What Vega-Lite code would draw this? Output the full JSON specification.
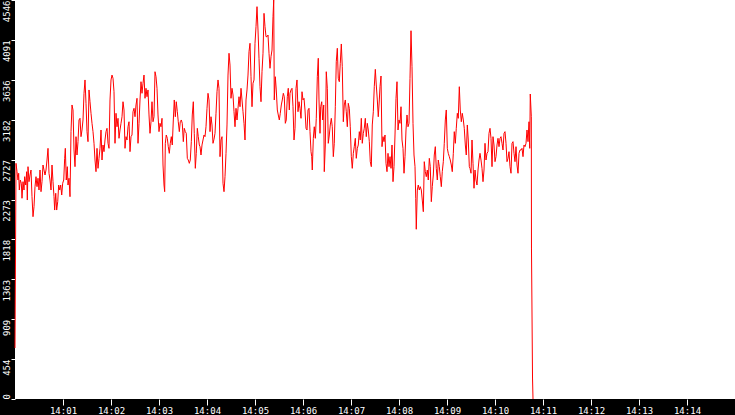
{
  "$schema": "https://vega.github.io/schema/vega-lite/v6.json",
  "width": 720,
  "height": 399,
  "autosize": "none",
  "padding": {"left": 15, "top": 0, "right": 0, "bottom": 16},
  "background": "black",
  "data": {
    "values": [
      {"s":0,"v":581},{"s":1.25,"v":2685},{"s":2.5,"v":2590},{"s":3.75,"v":2495},{"s":4.6,"v":2572},{"s":5.4,"v":2381},{"s":6.6,"v":2495},{"s":7.9,"v":2458},{"s":8.75,"v":2287},{"s":10,"v":2476},
      {"s":11.25,"v":2381},{"s":12.1,"v":2533},{"s":13.4,"v":2438},{"s":14.6,"v":2590},{"s":15.4,"v":2267},{"s":16.25,"v":2647},{"s":17.5,"v":2476},{"s":18.75,"v":2552},{"s":20,"v":2609},{"s":21.25,"v":2305},
      {"s":22.5,"v":2077},{"s":23.75,"v":2191},{"s":25,"v":2419},{"s":26.25,"v":2533},{"s":27.5,"v":2419},{"s":28.75,"v":2515},{"s":30,"v":2381},{"s":31.25,"v":2609},{"s":32.5,"v":2362},{"s":33.75,"v":2476},
      {"s":35,"v":2666},{"s":36.25,"v":2609},{"s":37.5,"v":2552},{"s":38.75,"v":2609},{"s":40,"v":2723},{"s":41.25,"v":2856},{"s":42.5,"v":2572},{"s":43.75,"v":2495},{"s":45,"v":2381},{"s":46.25,"v":2666},
      {"s":47.5,"v":2476},{"s":48.75,"v":2305},{"s":49.6,"v":2153},{"s":50.9,"v":2344},{"s":52.1,"v":2153},{"s":53.4,"v":2248},{"s":54.6,"v":2438},{"s":55.9,"v":2381},{"s":57.1,"v":2438},{"s":58.4,"v":2324},
      {"s":59.6,"v":2458},{"s":60.9,"v":2495},{"s":62.1,"v":2742},{"s":62.9,"v":2856},{"s":64.1,"v":2495},{"s":65.4,"v":2647},{"s":66.25,"v":2438},{"s":67.5,"v":2515},{"s":68.75,"v":2305},{"s":70,"v":3046},
      {"s":71.25,"v":3350},{"s":72.5,"v":3293},{"s":73.75,"v":2837},{"s":75,"v":2647},{"s":76.25,"v":2989},{"s":77.5,"v":2780},{"s":78.75,"v":2932},{"s":80,"v":3179},{"s":81.25,"v":3198},{"s":82.5,"v":2989},
      {"s":83.75,"v":3065},{"s":85,"v":3179},{"s":86.25,"v":3483},{"s":87.5,"v":3635},{"s":88.75,"v":3369},{"s":90,"v":3046},{"s":91.25,"v":2932},{"s":92.5,"v":3521},{"s":93.75,"v":3387},{"s":95,"v":3255},
      {"s":96.25,"v":3141},{"s":97.5,"v":3046},{"s":98.75,"v":2913},{"s":100,"v":2723},{"s":101.25,"v":2590},{"s":102.5,"v":2856},{"s":103.75,"v":2628},{"s":105,"v":2742},{"s":106.25,"v":2856},{"s":107.5,"v":3065},
      {"s":108.75,"v":2723},{"s":110,"v":2894},{"s":111.25,"v":2818},{"s":112.5,"v":2951},{"s":113.75,"v":3046},{"s":115,"v":3084},{"s":116.25,"v":2913},{"s":117.5,"v":2856},{"s":118.75,"v":3407},{"s":120,"v":3635},
      {"s":121.25,"v":3691},{"s":122.5,"v":3654},{"s":123.75,"v":3501},{"s":125,"v":2913},{"s":126.25,"v":3255},{"s":127.5,"v":3102},{"s":128.75,"v":3198},{"s":130,"v":2970},{"s":131.25,"v":3065},{"s":132.5,"v":3141},
      {"s":133.75,"v":3216},{"s":135,"v":3387},{"s":136.25,"v":3293},{"s":137.5,"v":2856},{"s":138.75,"v":2989},{"s":140,"v":2951},{"s":141.25,"v":3102},{"s":142.5,"v":3159},{"s":143.75,"v":2818},{"s":145,"v":2989},
      {"s":146.25,"v":3008},{"s":147.5,"v":3273},{"s":148.75,"v":3312},{"s":150,"v":3216},{"s":151.25,"v":3350},{"s":152.5,"v":3426},{"s":153.75,"v":2913},{"s":155,"v":3141},{"s":156.25,"v":3407},{"s":157.5,"v":3615},
      {"s":158.75,"v":3483},{"s":160,"v":3597},{"s":161.25,"v":3691},{"s":162.5,"v":3426},{"s":163.75,"v":3540},{"s":165,"v":3444},{"s":166.25,"v":3521},{"s":167.5,"v":3236},{"s":168.75,"v":3027},{"s":170,"v":3159},
      {"s":171.25,"v":3387},{"s":172.5,"v":3159},{"s":173.75,"v":3216},{"s":175,"v":3729},{"s":176.25,"v":3672},{"s":177.5,"v":3540},{"s":178.75,"v":3236},{"s":180,"v":3046},{"s":181.25,"v":3141},{"s":182.5,"v":3102},
      {"s":183.75,"v":3198},{"s":185,"v":2666},{"s":186.25,"v":2438},{"s":187.1,"v":2362},{"s":187.9,"v":2913},{"s":189.1,"v":3008},{"s":190.4,"v":2970},{"s":191.6,"v":2875},{"s":192.9,"v":2799},{"s":194.1,"v":2913},
      {"s":195.4,"v":2989},{"s":196.6,"v":2894},{"s":197.9,"v":3179},{"s":199.1,"v":3407},{"s":200.4,"v":3216},{"s":201.6,"v":3387},{"s":202.9,"v":3273},{"s":204.1,"v":3159},{"s":205.4,"v":3046},{"s":206.6,"v":3159},
      {"s":207.9,"v":3179},{"s":209.1,"v":3141},{"s":210.4,"v":2932},{"s":211.6,"v":3084},{"s":212.9,"v":3046},{"s":214.1,"v":3027},{"s":215.4,"v":2742},{"s":216.6,"v":2723},{"s":217.9,"v":2685},{"s":219.1,"v":2723},
      {"s":220.4,"v":2932},{"s":221.6,"v":3236},{"s":222.9,"v":3387},{"s":224.1,"v":3027},{"s":225.4,"v":2628},{"s":226.6,"v":2799},{"s":227.9,"v":3084},{"s":229.1,"v":2989},{"s":230.4,"v":2894},{"s":231.25,"v":2875},
      {"s":232.5,"v":2780},{"s":233.75,"v":2894},{"s":235,"v":2951},{"s":236.25,"v":3008},{"s":237.5,"v":2989},{"s":238.75,"v":3102},{"s":240,"v":3312},{"s":241.25,"v":3483},{"s":242.5,"v":3407},{"s":243.75,"v":3046},
      {"s":245,"v":3216},{"s":246.25,"v":3122},{"s":247.5,"v":2913},{"s":248.75,"v":2960},{"s":250,"v":3027},{"s":251.25,"v":3255},{"s":252.5,"v":3501},{"s":253.75,"v":3635},{"s":255,"v":3540},{"s":256.25,"v":2761},
      {"s":257.5,"v":2951},{"s":258.75,"v":2989},{"s":260,"v":2458},{"s":261.25,"v":2362},{"s":262.5,"v":2533},{"s":263.75,"v":2799},{"s":265,"v":3122},{"s":266.25,"v":3691},{"s":267.5,"v":3939},{"s":268.75,"v":3805},
      {"s":270,"v":3426},{"s":271.25,"v":3540},{"s":272.5,"v":3464},{"s":273.75,"v":3273},{"s":275,"v":3102},{"s":276.25,"v":3312},{"s":277.5,"v":3179},{"s":278.75,"v":3312},{"s":280,"v":3444},{"s":281.25,"v":3330},
      {"s":282.5,"v":3540},{"s":283.75,"v":3407},{"s":285,"v":3273},{"s":286.25,"v":3141},{"s":287.5,"v":2951},{"s":288.75,"v":3407},{"s":290,"v":3521},{"s":291.25,"v":3691},{"s":292.5,"v":3957},{"s":293.75,"v":4053},
      {"s":295,"v":3672},{"s":296.25,"v":3330},{"s":297.5,"v":3597},{"s":298.75,"v":3635},{"s":300,"v":4053},{"s":301.25,"v":4242},{"s":302.5,"v":4470},{"s":303.75,"v":4204},{"s":305,"v":3882},{"s":306.25,"v":3558},
      {"s":307.5,"v":3387},{"s":308.75,"v":3729},{"s":310,"v":3939},{"s":311.25,"v":4394},{"s":312.5,"v":4242},{"s":313.75,"v":4128},{"s":315,"v":4128},{"s":316.25,"v":4147},{"s":317.5,"v":3939},{"s":318.75,"v":3768},
      {"s":320,"v":3900},{"s":321.25,"v":3976},{"s":322.5,"v":4356},{"s":323.4,"v":4546},{"s":324.1,"v":3407},{"s":325.4,"v":3672},{"s":326.6,"v":3521},{"s":327.9,"v":3293},{"s":329.1,"v":3236},{"s":330.4,"v":3179},
      {"s":331.6,"v":3255},{"s":332.9,"v":3350},{"s":334.1,"v":3407},{"s":335.4,"v":3483},{"s":336.6,"v":3444},{"s":337.9,"v":3141},{"s":339.1,"v":3179},{"s":340.4,"v":3444},{"s":341.6,"v":3540},{"s":342.9,"v":3293},
      {"s":343.75,"v":3483},{"s":345,"v":3521},{"s":346.25,"v":3540},{"s":347.5,"v":3330},{"s":348.75,"v":2951},{"s":350,"v":3084},{"s":351.25,"v":3540},{"s":352.5,"v":3635},{"s":353.75,"v":3273},{"s":355,"v":3387},
      {"s":356.25,"v":3312},{"s":357.5,"v":3198},{"s":358.75,"v":3501},{"s":360,"v":3407},{"s":361.25,"v":3426},{"s":362.5,"v":3293},{"s":363.75,"v":3084},{"s":365,"v":3065},{"s":366.25,"v":3293},{"s":367.5,"v":3312},
      {"s":368.75,"v":3046},{"s":370,"v":2818},{"s":370.9,"v":2761},{"s":371.6,"v":2609},{"s":372.9,"v":2970},{"s":374.1,"v":3102},{"s":375.4,"v":2970},{"s":376.6,"v":3198},{"s":377.9,"v":3672},{"s":379.1,"v":3882},
      {"s":380,"v":3407},{"s":381.25,"v":3027},{"s":382.1,"v":3330},{"s":383.4,"v":3387},{"s":384.6,"v":3179},{"s":385.9,"v":3350},{"s":386.6,"v":2590},{"s":387.9,"v":2894},{"s":389.1,"v":3729},{"s":390.4,"v":3540},
      {"s":391.6,"v":2913},{"s":392.9,"v":3008},{"s":394.1,"v":3122},{"s":395.4,"v":3198},{"s":396.6,"v":3102},{"s":397.9,"v":2761},{"s":399.1,"v":2913},{"s":400.4,"v":3330},{"s":401.6,"v":3843},{"s":402.9,"v":3996},
      {"s":404.1,"v":3654},{"s":405.4,"v":3615},{"s":406.6,"v":3825},{"s":407.9,"v":4045},{"s":409.1,"v":3786},{"s":410.4,"v":3159},{"s":411.6,"v":3350},{"s":412.9,"v":3407},{"s":414.1,"v":3273},{"s":415.4,"v":3102},
      {"s":416.6,"v":3369},{"s":417.9,"v":3312},{"s":419.1,"v":3102},{"s":420.4,"v":2761},{"s":421.6,"v":2628},{"s":422.9,"v":2799},{"s":424.1,"v":2875},{"s":425.4,"v":2970},{"s":426.6,"v":2742},{"s":427.9,"v":2856},
      {"s":429.1,"v":2894},{"s":430.4,"v":3046},{"s":431.6,"v":2951},{"s":432.9,"v":3198},{"s":434.1,"v":2913},{"s":435.4,"v":3027},{"s":436.6,"v":3084},{"s":437.9,"v":3198},{"s":439.1,"v":2989},{"s":440.4,"v":3141},
      {"s":441.6,"v":3065},{"s":442.9,"v":2932},{"s":444.1,"v":2704},{"s":445.4,"v":2647},{"s":446.6,"v":3122},{"s":447.9,"v":3273},{"s":449.1,"v":3558},{"s":450.4,"v":3756},{"s":451.6,"v":3578},{"s":452.9,"v":3407},
      {"s":454.1,"v":3216},{"s":455.4,"v":3407},{"s":456.25,"v":3558},{"s":457.5,"v":3680},{"s":458.75,"v":2875},{"s":460,"v":2989},{"s":461.25,"v":2932},{"s":462.5,"v":3008},{"s":463.75,"v":2685},{"s":465,"v":2590},
      {"s":466.25,"v":2799},{"s":467.5,"v":2647},{"s":468.75,"v":2761},{"s":470,"v":2628},{"s":471.25,"v":2894},{"s":472.5,"v":2476},{"s":473.75,"v":2647},{"s":475,"v":3008},{"s":476.25,"v":3426},{"s":477.5,"v":3615},
      {"s":478.75,"v":3065},{"s":480,"v":3179},{"s":481.25,"v":3141},{"s":482.5,"v":3330},{"s":483.75,"v":2951},{"s":485,"v":2856},{"s":486.25,"v":2572},{"s":487.5,"v":2761},{"s":488.75,"v":3065},{"s":490,"v":3236},
      {"s":491.25,"v":3102},{"s":492.5,"v":3141},{"s":493.75,"v":3654},{"s":495,"v":4196},{"s":496.25,"v":3786},{"s":497.5,"v":3141},{"s":498.75,"v":2780},{"s":500,"v":2647},{"s":500.9,"v":2287},{"s":501.6,"v":1934},
      {"s":502.9,"v":2381},{"s":504.1,"v":2438},{"s":505.4,"v":2381},{"s":506.6,"v":2419},{"s":507.9,"v":2381},{"s":509.1,"v":2267},{"s":510.4,"v":2134},{"s":511.6,"v":2704},{"s":512.9,"v":2590},{"s":514.1,"v":2533},
      {"s":515.4,"v":2609},{"s":516.6,"v":2495},{"s":517.9,"v":2742},{"s":519.1,"v":2647},{"s":520.4,"v":2248},{"s":521.6,"v":2419},{"s":522.9,"v":2552},{"s":524.1,"v":2780},{"s":525.4,"v":2875},{"s":526.6,"v":2628},
      {"s":527.9,"v":2495},{"s":529.1,"v":2723},{"s":530.4,"v":2647},{"s":531.6,"v":2533},{"s":532.9,"v":2419},{"s":534.1,"v":2590},{"s":535.4,"v":2704},{"s":536.6,"v":2913},{"s":537.9,"v":3179},{"s":539.1,"v":3293},
      {"s":540.4,"v":2856},{"s":541.6,"v":2799},{"s":542.9,"v":2761},{"s":544.1,"v":2723},{"s":545.4,"v":2666},{"s":546.6,"v":2590},{"s":547.9,"v":2799},{"s":549.1,"v":3046},{"s":550.4,"v":2913},{"s":551.6,"v":3084},
      {"s":552.9,"v":3255},{"s":554.1,"v":3198},{"s":555.4,"v":3558},{"s":556.6,"v":3293},{"s":557.9,"v":3159},{"s":559.1,"v":3255},{"s":560.4,"v":3179},{"s":561.6,"v":3084},{"s":562.9,"v":2894},{"s":564.1,"v":2780},
      {"s":565.4,"v":3122},{"s":566.6,"v":2951},{"s":567.9,"v":2647},{"s":568.75,"v":2628},{"s":570,"v":2572},{"s":571.25,"v":2951},{"s":572.5,"v":2685},{"s":573.75,"v":2401},{"s":575,"v":2609},{"s":576.25,"v":2495},
      {"s":577.5,"v":2438},{"s":578.75,"v":2609},{"s":580,"v":2723},{"s":581.25,"v":2799},{"s":582.5,"v":2723},{"s":583.75,"v":2628},{"s":585,"v":2476},{"s":586.25,"v":2609},{"s":587.5,"v":2913},{"s":588.75,"v":2723},
      {"s":590,"v":2799},{"s":591.25,"v":2818},{"s":592.5,"v":3027},{"s":593.75,"v":3084},{"s":595,"v":2970},{"s":596.25,"v":2647},{"s":597.5,"v":2989},{"s":598.75,"v":2894},{"s":600,"v":2704},{"s":601.25,"v":2761},
      {"s":602.5,"v":2894},{"s":603.75,"v":2970},{"s":605,"v":2875},{"s":606.25,"v":2970},{"s":607.5,"v":2989},{"s":608.75,"v":2913},{"s":610,"v":2837},{"s":611.25,"v":3027},{"s":612.5,"v":3046},{"s":613.75,"v":2913},
      {"s":615,"v":2704},{"s":616.25,"v":2742},{"s":617.5,"v":2818},{"s":618.75,"v":2647},{"s":620,"v":2572},{"s":621.25,"v":2913},{"s":622.5,"v":2932},{"s":623.75,"v":2799},{"s":625,"v":2704},{"s":626.25,"v":2875},
      {"s":627.5,"v":2666},{"s":628.75,"v":2572},{"s":630,"v":2799},{"s":631.25,"v":2837},{"s":632.5,"v":2837},{"s":633.75,"v":2856},{"s":635,"v":2761},{"s":636.25,"v":2894},{"s":637.5,"v":2875},{"s":638.75,"v":2913},
      {"s":640,"v":3065},{"s":641.25,"v":2932},{"s":642.5,"v":3159},{"s":643.4,"v":2856},{"s":644.1,"v":3475},{"s":645.4,"v":3216},{"s":645.6,"v":1720},{"s":646.9,"v":239},{"s":647.5,"v":0}
    ]
  },
  "mark": {"type": "line", "color": "#ff0000", "strokeWidth": 1, "interpolate": "linear"},
  "encoding": {
    "x": {
      "field": "s",
      "type": "quantitative",
      "scale": {"domain": [0, 900], "nice": false, "zero": false},
      "axis": {
        "title": null,
        "values": [60, 120, 180, 240, 300, 360, 420, 480, 540, 600, 660, 720, 780, 840],
        "labelExpr": "'14:' + (datum.value < 600 ? '0' : '') + (datum.value / 60)",
        "tickSize": 6,
        "labelPadding": 1,
        "labelFlush": false,
        "labelOverlap": false
      }
    },
    "y": {
      "field": "v",
      "type": "quantitative",
      "scale": {"domain": [0, 4546], "nice": false},
      "axis": {
        "title": null,
        "values": [0, 454.6, 909.2, 1363.8, 1818.4, 2273, 2727.6, 3182.2, 3636.8, 4091.4, 4546],
        "labelExpr": "floor(datum.value)",
        "tickSize": 4,
        "labelAngle": 270,
        "labelAlign": {"condition": {"test": "datum.value == 0", "value": "left"}, "value": "right"},
        "labelBaseline": "alphabetic",
        "labelPadding": 2,
        "labelFlush": false,
        "labelOverlap": false
      }
    }
  },
  "config": {
    "view": {"fill": "white", "stroke": null},
    "axis": {
      "grid": false,
      "domain": false,
      "tickColor": "white",
      "tickWidth": 1,
      "labelColor": "white",
      "labelFont": "DejaVu Sans Mono",
      "labelFontSize": 9
    }
  }
}
